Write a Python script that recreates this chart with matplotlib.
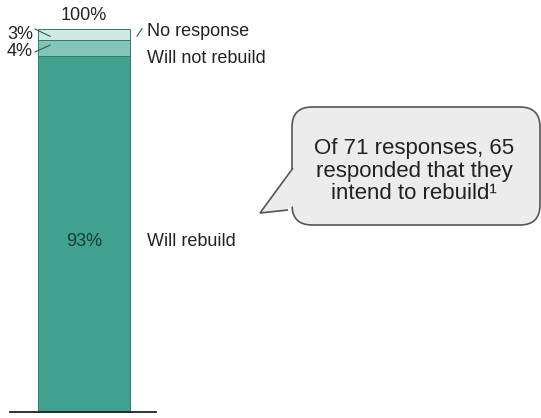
import matplotlib

matplotlib.use("Agg")

import matplotlib.pyplot as plt
from matplotlib.patches import FancyBboxPatch, Polygon

plt.rcParams["font.family"] = ["Liberation Sans", "DejaVu Sans"]

# survey answers, stacked bottom to top
categories = ["Will rebuild", "Will not rebuild", "No response"]
shares = [93, 4, 3]
share_labels = ["93%", "4%", "3%"]
total_label = "100%"
colors = ["#3fa18e", "#82c5b8", "#cce9e2"]
note = "Of 71 responses, 65\nresponded that they\nintend to rebuild\u00b9"

W, H = 541, 418
fig = plt.figure(figsize=(W / 100, H / 100), dpi=100)

# bar axes: y 0..100 spans pixel rows 412..29
px_per_unit = (412 - 29) / 100
ax = fig.add_axes([0, 0, 1, 1])
ax.set_xlim(0, W)
ax.set_ylim(-(H - 412) / px_per_unit, 100 + 29 / px_per_unit)
ax.axis("off")

bar_x, bar_w = 84, 92
bottom = 0
for share, color in zip(shares, colors):
    ax.bar(bar_x, share, bar_w, bottom=bottom, color=color,
           edgecolor="#2f7c6d", linewidth=0.7)
    bottom += share

ax.plot([10, 156], [0, 0], color="#222222", lw=1.3)

fs = 13
ax.text(bar_x, sum(shares) + 1.3, total_label, ha="center", va="bottom",
        fontsize=fs, color="#222222")
ax.text(bar_x, 44.5, share_labels[0], ha="center", va="center",
        fontsize=fs, color="#1b3b35")

# small percentages sit left of the bar with leader ticks
y_top = shares[0] + shares[1] + shares[2] / 2
y_mid = shares[0] + shares[1] / 2
ax.text(33, 98.6, share_labels[2], ha="right", va="center",
        fontsize=fs, color="#222222")
ax.text(33, 94.0, share_labels[1], ha="right", va="center",
        fontsize=fs, color="#222222")
ax.plot([35, 50], [y_top + 1.5, y_top - 0.4], color="#3a5a55", lw=0.8)
ax.plot([35, 50], [y_mid - 1.0, y_mid + 0.8], color="#3a5a55", lw=0.8)

# category names to the right
lx = 147
ax.text(lx, 99.3, categories[2], ha="left", va="center",
        fontsize=fs, color="#222222")
ax.plot([137, 142], [y_top - 0.4, y_top + 1.6], color="#3a5a55", lw=0.8)
ax.text(lx, 92.3, categories[1], ha="left", va="center",
        fontsize=fs, color="#222222")
ax.text(lx, 44.5, categories[0], ha="left", va="center",
        fontsize=fs, color="#222222")

# speech bubble in pixel coordinates
ov = fig.add_axes([0, 0, 1, 1], facecolor="none")
ov.set_xlim(0, W)
ov.set_ylim(H, 0)
ov.axis("off")

bubble = FancyBboxPatch((298, 113), 236, 106,
                        boxstyle="round,pad=6,rounding_size=20",
                        facecolor="#ececec", edgecolor="#555555", lw=1.2)
ov.add_patch(bubble)
tail = Polygon([(293, 168), (260, 213), (288, 210)], closed=False,
               facecolor="#ececec", edgecolor="#555555", lw=1.2, zorder=3)
ov.add_patch(tail)
# hide the bubble outline under the tail joint
ov.add_patch(Polygon([(294, 166), (263, 211), (290, 208), (296, 204)],
                     facecolor="#ececec", edgecolor="none", zorder=2.9))
ov.text(414, 171, note, ha="center", va="center", fontsize=16,
        color="#222222", linespacing=1.1, zorder=4)

fig.savefig("out.png", dpi=100)
